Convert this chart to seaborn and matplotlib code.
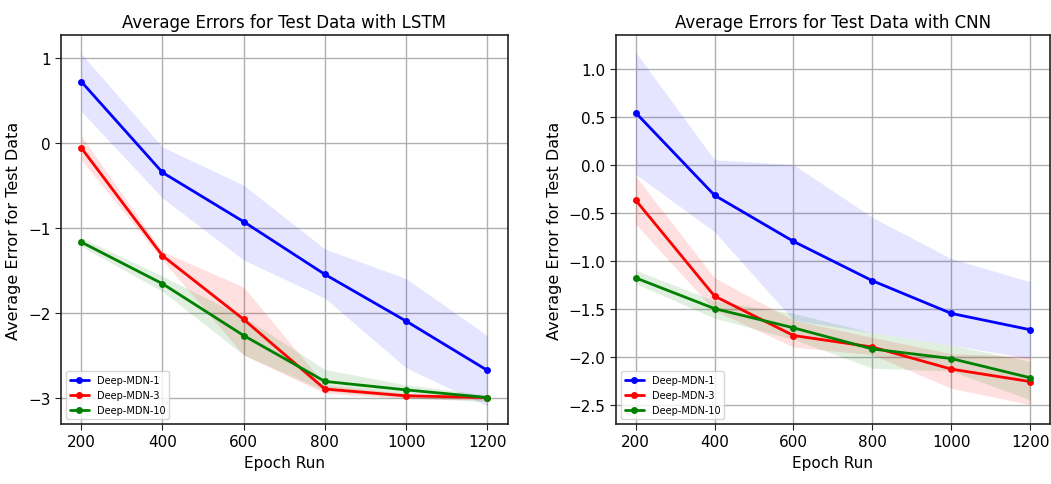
import numpy as np
import pandas as pd
import matplotlib
matplotlib.use("Agg")
import matplotlib.pyplot as plt
import seaborn as sns

epochs = [200, 400, 600, 800, 1000, 1200]
series_names = ["Deep-MDN-1", "Deep-MDN-3", "Deep-MDN-10"]

# LSTM panel
lstm_mdn1 = [0.72, -0.35, -0.93, -1.55, -2.10, -2.68]
lstm_mdn1_hi = [1.05, -0.05, -0.50, -1.25, -1.60, -2.27]
lstm_mdn1_lo = [0.37, -0.65, -1.38, -1.83, -2.65, -3.10]
lstm_mdn3 = [-0.06, -1.33, -2.08, -2.90, -2.98, -3.00]
lstm_mdn3_hi = [0.08, -1.28, -1.70, -2.85, -2.95, -2.98]
lstm_mdn3_lo = [-0.20, -1.38, -2.50, -2.95, -3.01, -3.03]
lstm_mdn10 = [-1.17, -1.66, -2.27, -2.81, -2.91, -3.00]
lstm_mdn10_hi = [-1.12, -1.57, -2.05, -2.67, -2.85, -2.97]
lstm_mdn10_lo = [-1.22, -1.75, -2.50, -2.92, -3.00, -3.05]

# CNN panel
cnn_mdn1 = [0.54, -0.32, -0.80, -1.21, -1.55, -1.72]
cnn_mdn1_hi = [1.17, 0.05, 0.00, -0.55, -0.98, -1.22]
cnn_mdn1_lo = [-0.10, -0.70, -1.62, -1.75, -1.88, -2.02]
cnn_mdn3 = [-0.37, -1.37, -1.78, -1.90, -2.13, -2.26]
cnn_mdn3_hi = [-0.12, -1.18, -1.62, -1.80, -1.97, -2.00]
cnn_mdn3_lo = [-0.62, -1.52, -1.90, -1.98, -2.33, -2.50]
cnn_mdn10 = [-1.18, -1.50, -1.70, -1.92, -2.02, -2.22]
cnn_mdn10_hi = [-1.10, -1.42, -1.55, -1.75, -1.88, -2.05]
cnn_mdn10_lo = [-1.24, -1.60, -1.82, -2.12, -2.15, -2.45]

colors = ["#0000ff", "#ff0000", "#008000"]
band_alpha = [0.10, 0.12, 0.12]

sns.set_style("ticks")
plt.rcParams["font.family"] = ["DejaVu Sans"]
plt.rcParams["text.color"] = "black"
plt.rcParams["axes.labelcolor"] = "black"
plt.rcParams["xtick.color"] = "black"
plt.rcParams["ytick.color"] = "black"

fig = plt.figure(figsize=(10.51, 4.85), dpi=100)
ax1 = fig.add_axes([0.058, 0.124, 0.425, 0.802])
ax2 = fig.add_axes([0.586, 0.124, 0.413, 0.802])

panels = [
    (ax1, "Average Errors for Test Data with LSTM",
     [lstm_mdn1, lstm_mdn3, lstm_mdn10],
     [lstm_mdn1_lo, lstm_mdn3_lo, lstm_mdn10_lo],
     [lstm_mdn1_hi, lstm_mdn3_hi, lstm_mdn10_hi],
     (-3.31, 1.27), [-3, -2, -1, 0, 1], ["\u22123", "\u22122", "\u22121", "0", "1"]),
    (ax2, "Average Errors for Test Data with CNN",
     [cnn_mdn1, cnn_mdn3, cnn_mdn10],
     [cnn_mdn1_lo, cnn_mdn3_lo, cnn_mdn10_lo],
     [cnn_mdn1_hi, cnn_mdn3_hi, cnn_mdn10_hi],
     (-2.70, 1.35), [-2.5, -2.0, -1.5, -1.0, -0.5, 0.0, 0.5, 1.0],
     ["\u22122.5", "\u22122.0", "\u22121.5", "\u22121.0", "\u22120.5", "0.0", "0.5", "1.0"]),
]

for ax, title, means, los, his, ylim, yt, ytl in panels:
    rows = []
    for name, m in zip(series_names, means):
        for e, v in zip(epochs, m):
            rows.append({"epoch": e, "value": v, "model": name})
    df = pd.DataFrame(rows)
    for c, lo, hi, a in zip(colors, los, his, band_alpha):
        ax.fill_between(epochs, lo, hi, color=c, alpha=a, linewidth=0)
    sns.lineplot(data=df, x="epoch", y="value", hue="model", hue_order=series_names,
                 palette=colors, marker="o", markersize=5, markeredgewidth=0,
                 linewidth=2, ax=ax, errorbar=None)
    ax.set_xlim(150, 1250)
    ax.set_ylim(*ylim)
    ax.set_xticks(epochs)
    ax.set_xticklabels([str(e) for e in epochs], fontsize=11)
    ax.set_yticks(yt)
    ax.set_yticklabels(ytl, fontsize=11)
    ax.grid(True, color="#b0b0b0", linewidth=1)
    ax.set_axisbelow(True)
    ax.set_title(title, fontsize=12, color="black")
    ax.set_xlabel("Epoch Run", fontsize=11, color="black")
    ax.set_ylabel("Average Error for Test Data", fontsize=11.5, color="black", labelpad=5)
    for s in ax.spines.values():
        s.set_color("#222222")
        s.set_linewidth(1.2)
    ax.tick_params(direction="out", length=4, color="#222222", labelcolor="black")
    leg = ax.legend(loc="lower left", fontsize=7, frameon=True, framealpha=0.8,
                    edgecolor="#cccccc", fancybox=True)
    leg.set_title(None)

fig.savefig("out.png", dpi=100)
